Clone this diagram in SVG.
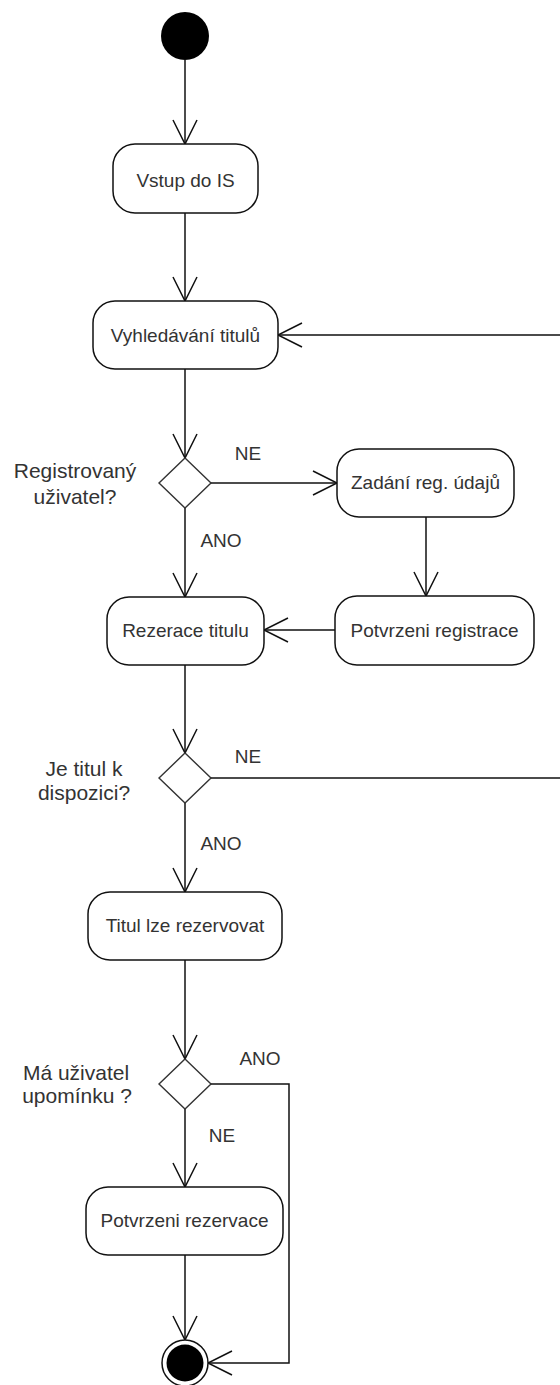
<svg xmlns="http://www.w3.org/2000/svg" width="560" height="1385" viewBox="0 0 560 1385">
<style>
.box{fill:#fff;stroke:#111;stroke-width:1.5}
.dec{fill:#fff;stroke:#333;stroke-width:1.4}
.t{font-family:"Liberation Sans",Arial,sans-serif;font-size:19px;fill:#333;text-anchor:middle}
.q{font-family:"Liberation Sans",Arial,sans-serif;font-size:21px;fill:#333;text-anchor:middle}
.lbl{font-family:"Liberation Sans",Arial,sans-serif;font-size:19px;fill:#333;text-anchor:middle}
.c{fill:none;stroke:#111;stroke-width:1.5}
</style>
<defs>
<marker id="arr" markerUnits="userSpaceOnUse" markerWidth="30" markerHeight="30" refX="25" refY="13" orient="auto">
<path d="M1,1 L25,13 L1,25" fill="none" stroke="#111" stroke-width="1.5"/>
</marker>
</defs>
<rect width="560" height="1385" fill="#fff"/>
<g id="connectors">
<line class="c" x1="185" y1="60" x2="185" y2="144" marker-end="url(#arr)"/>
<line class="c" x1="185" y1="213" x2="185" y2="301" marker-end="url(#arr)"/>
<line class="c" x1="185" y1="369" x2="185" y2="458" marker-end="url(#arr)"/>
<line class="c" x1="211" y1="483" x2="337" y2="483" marker-end="url(#arr)"/>
<line class="c" x1="426" y1="517" x2="426" y2="596" marker-end="url(#arr)"/>
<line class="c" x1="335" y1="630" x2="264" y2="630" marker-end="url(#arr)"/>
<line class="c" x1="185" y1="508" x2="185" y2="597" marker-end="url(#arr)"/>
<line class="c" x1="185" y1="665" x2="185" y2="753" marker-end="url(#arr)"/>
<path class="c" d="M211,778 H563 V335 H278" marker-end="url(#arr)"/>
<line class="c" x1="185" y1="803" x2="185" y2="892" marker-end="url(#arr)"/>
<line class="c" x1="185" y1="960" x2="185" y2="1059" marker-end="url(#arr)"/>
<line class="c" x1="185" y1="1109" x2="185" y2="1187" marker-end="url(#arr)"/>
<path class="c" d="M211,1084 H289 V1363 H208" marker-end="url(#arr)"/>
<line class="c" x1="185" y1="1255" x2="185" y2="1340" marker-end="url(#arr)"/>
<text class="lbl" x="248" y="460">NE</text>
<text class="lbl" x="221" y="547">ANO</text>
<text class="lbl" x="248" y="763">NE</text>
<text class="lbl" x="221" y="850">ANO</text>
<text class="lbl" x="260" y="1065">ANO</text>
<text class="lbl" x="222" y="1142">NE</text>
</g>
<g id="start"><circle cx="185" cy="36" r="24" fill="#000"/></g>
<g id="vstup"><rect class="box" x="113" y="144" width="145" height="69" rx="22"/><text class="t" x="185.5" y="187">Vstup do IS</text></g>
<g id="vyhledavani"><rect class="box" x="93" y="301" width="185" height="68" rx="22"/><text class="t" x="185.5" y="342">Vyhledávání titulů</text></g>
<g id="dec1"><polygon class="dec" points="185,458 211,483 185,508 159,483"/><text class="q" x="75" y="478">Registrovaný</text><text class="q" x="75" y="504">uživatel?</text></g>
<g id="zadani"><rect class="box" x="337" y="449" width="177" height="68" rx="22"/><text class="t" x="425.5" y="489">Zadání reg. údajů</text></g>
<g id="potvrzeni-reg"><rect class="box" x="335" y="596" width="199" height="69" rx="22"/><text class="t" x="434.5" y="637">Potvrzeni registrace</text></g>
<g id="rezerace"><rect class="box" x="107" y="597" width="157" height="68" rx="22"/><text class="t" x="185.5" y="637">Rezerace titulu</text></g>
<g id="dec2"><polygon class="dec" points="185,753 211,778 185,803 159,778"/><text class="q" x="84" y="776">Je titul k</text><text class="q" x="84" y="800">dispozici?</text></g>
<g id="titul"><rect class="box" x="88" y="892" width="194" height="68" rx="22"/><text class="t" x="185" y="932">Titul lze rezervovat</text></g>
<g id="dec3"><polygon class="dec" points="185,1059 211,1084 185,1109 159,1084"/><text class="q" x="76" y="1080">Má uživatel</text><text class="q" x="77" y="1103">upomínku ?</text></g>
<g id="potvrzeni-rez"><rect class="box" x="86" y="1187" width="197" height="68" rx="22"/><text class="t" x="184.5" y="1227">Potvrzeni rezervace</text></g>
<g id="end"><circle cx="185" cy="1363" r="23" fill="#fff" stroke="#111" stroke-width="1.5"/><circle cx="185" cy="1363" r="18.5" fill="#000"/></g>
</svg>
